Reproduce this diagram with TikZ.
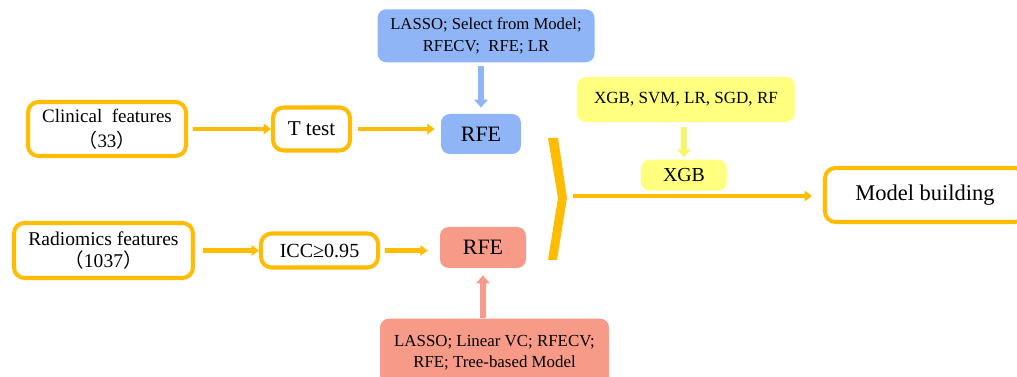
\documentclass[tikz,border=0pt]{standalone}
\usepackage{fontspec}
\setmainfont{Liberation Serif}
\newfontfamily\cjk{Noto Sans CJK SC}
\usetikzlibrary{arrows.meta,positioning}
\definecolor{goldline}{HTML}{FFBC00}
\definecolor{bluefill}{HTML}{8FB5F6}
\definecolor{redfill}{HTML}{F89A88}
\definecolor{yellowfill}{HTML}{FFFF80}
\definecolor{yellowline}{HTML}{F6F66A}
\tikzstyle{rec} = [rectangle, rounded corners=6pt, draw=goldline, line width=2.3pt, fill=white, text centered, align=center, inner sep=0pt]
\tikzstyle{method} = [rectangle, rounded corners=5pt, text centered, align=center, inner sep=0pt]

\begin{document}
\begin{tikzpicture}[>={Triangle[length=4.2pt,width=6pt]},
  flow/.style={->, draw=goldline, line width=2.4pt},
  pick/.style={->, line width=3.2pt, >={Triangle[length=4.5pt,width=7.5pt]}},
  small/.style={font=\fontsize{9.6}{12.2}\selectfont},
  big/.style={font=\fontsize{11.4}{14}\selectfont}]
  \clip (0,0) rectangle (20.34,-7.54);
  % inputs and first filters
  \node (Clinical) [rec, minimum width=3.16cm, minimum height=1.08cm, font=\fontsize{10.8}{14}\selectfont] at (2.14,-2.58) {Clinical\ \ features\\{\cjk （}33{\cjk ）}};
  \node (Ttest) [rec, font=\fontsize{12}{14}\selectfont, minimum width=1.54cm, minimum height=0.86cm, right=1.66cm of Clinical] {T test};
  \node (Radiomics) [rec, minimum width=3.58cm, minimum height=1.10cm, font=\fontsize{11.1}{13}\selectfont] at (2.07,-5.01) {Radiomics features\\{\cjk （}1037{\cjk ）}};
  \node (ICC) [rec, big, minimum width=2.34cm, minimum height=0.68cm, right=1.28cm of Radiomics] {ICC≥0.95};
  % feature selection
  \node (BlueRFE) [method, fill=bluefill, minimum width=1.6cm, minimum height=0.8cm, font=\fontsize{12.5}{14}\selectfont] at (9.62,-2.68) {RFE};
  \node (BlueMethods) [method, font=\fontsize{9.5}{12.4}\selectfont, fill=bluefill, minimum width=4.34cm, minimum height=1.06cm, above=1.02cm of BlueRFE, xshift=0.1cm] {LASSO; Select from Model;\\RFECV;\ \ RFE; LR};
  \node (RedRFE) [method, fill=redfill, minimum width=1.72cm, minimum height=0.82cm, font=\fontsize{12.5}{14}\selectfont] at (9.66,-4.95) {RFE};
  \node (RedMethods) [method, small, fill=redfill, minimum width=4.58cm, minimum height=1.36cm, below=1.0cm of RedRFE, xshift=0.23cm] {LASSO; Linear VC; RFECV;\\RFE;\ Tree-based Model};
  % models
  \node (Models) [method, fill=yellowfill, minimum width=4.36cm, minimum height=0.9cm, font=\fontsize{9.7}{12}\selectfont] at (13.72,-1.99) {XGB,\ SVM, LR,\ SGD, RF};
  \node (XGB) [method, fill=yellowfill, minimum width=1.72cm, minimum height=0.62cm, below=0.74cm of Models, xshift=-0.04cm, font=\fontsize{11.3}{13}\selectfont] {XGB};
  \node (Building) [rec, minimum width=4.0cm, minimum height=1.08cm, font=\fontsize{12.8}{16}\selectfont] at (18.5,-3.9) {Model building};
  \fill[goldline] (10.96,-2.76) -- (11.16,-2.76) -- (11.34,-3.96) -- (11.14,-5.2) -- (10.96,-5.2) -- (11.16,-3.96) -- cycle;
  \coordinate (Apex) at (11.46,-3.92);

  \draw[flow, shorten <=0.1cm] (Clinical) -- (Ttest);
  \draw[flow, shorten <=0.12cm, shorten >=0.12cm] (Ttest.east) -- (Ttest.east -| BlueRFE.west);
  \draw[flow, shorten <=0.16cm] (Radiomics) -- (ICC);
  \draw[flow, shorten <=0.1cm, shorten >=0.24cm] (ICC.east) -- (ICC.east -| RedRFE.west);
  \draw[pick, bluefill, shorten <=0.06cm, shorten >=0.12cm] (BlueMethods.south -| BlueRFE) -- (BlueRFE);
  \draw[pick, redfill, shorten >=0.14cm] (RedMethods.north -| RedRFE) -- (RedRFE);
  \draw[pick, yellowline, shorten <=0.1cm, shorten >=0.04cm] (Models.south -| XGB) -- (XGB);
  \draw[flow, shorten >=0.22cm] (Apex) -- (Apex -| Building.west);
\end{tikzpicture}
\end{document}
